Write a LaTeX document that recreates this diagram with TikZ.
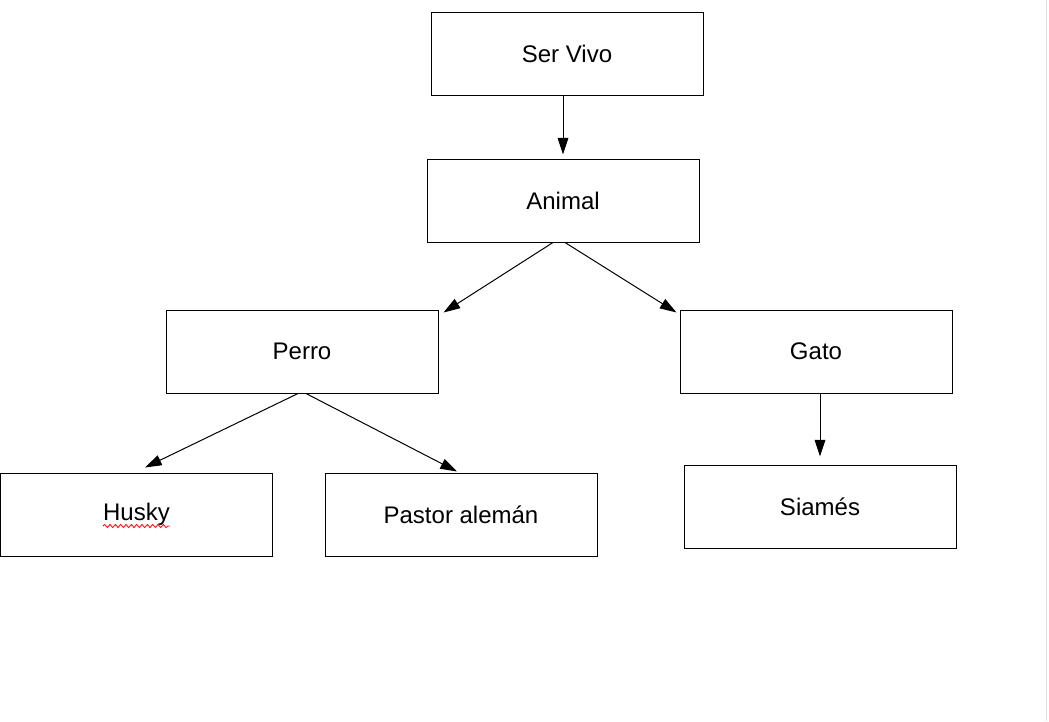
\documentclass[tikz,border=0pt]{standalone}
\usepackage{fontspec}
\setmainfont{Liberation Sans}
\usetikzlibrary{arrows.meta,calc,decorations.pathmorphing}
\begin{document}
\begin{tikzpicture}[x=0.75pt,y=-0.75pt,
  box/.style={draw=black,line width=0.75pt,minimum width=204pt,minimum height=62.25pt,inner sep=0pt,font=\fontsize{18pt}{21pt}\selectfont},
  arr/.style={draw=black,line width=0.75pt,-{Triangle[length=12.5pt,width=8pt]}}]
\useasboundingbox[fill=white] (0,0) rectangle (1049,721);
\draw[black!12,line width=0.75pt] (1046,0) -- (1046,721);
\node[box] (ser) at (567,53.5) {Ser Vivo};
\node[box] (animal) at (563,200.5) {Animal};
\node[box] (perro) at (302,351.5) {Perro};
\node[box] (gato) at (816,351.5) {Gato};
\node[box] (husky) at (136.5,514.5) {Husky};
\node[box] (pastor) at (461,514.5) {Pastor alemán};
\node[box] (siames) at (820,506.5) {Siamés};
\draw[red,line width=0.6pt,decorate,decoration={snake,amplitude=1.2pt,segment length=4pt}] (103,526) -- (170,526);
\draw[arr] ($(ser.south)+(-4,0)$) -- ($(animal.north)+(0,-4)$);
\draw[arr] ($(animal.south)+(-10,0)$) -- ($(perro.north east)+(5,3)$);
\draw[arr] ($(animal.south)+(2,0)$) -- ($(gato.north west)+(-3,3)$);
\draw[arr] ($(perro.south)+(-4,0)$) -- ($(husky.north)+(8.5,-5)$);
\draw[arr] ($(perro.south)+(4,0)$) -- ($(pastor.north)+(-4,-1)$);
\draw[arr] ($(gato.south)+(4,0)$) -- ($(siames.north)+(0,-8)$);
\end{tikzpicture}
\end{document}
